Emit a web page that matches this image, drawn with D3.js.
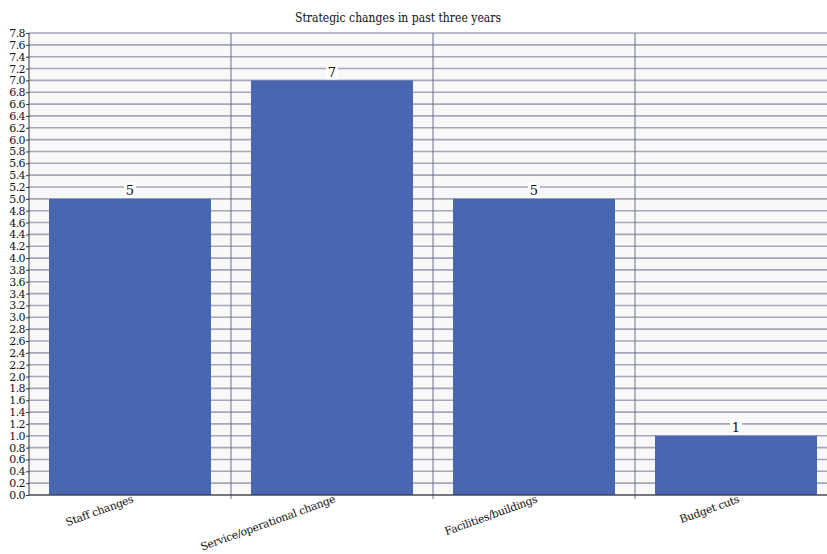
<!DOCTYPE html>
<html><head><meta charset="utf-8">
<script src="https://cdn.jsdelivr.net/npm/d3@7"></script>
<style>body{margin:0;background:#fff}svg{display:block}
svg text{font-family:"DejaVu Serif","Liberation Serif",Times,serif !important}</style>
</head><body><svg id="c" width="827" height="554"></svg>
<script>
const categories = ["Staff changes","Service/operational change","Facilities/buildings","Budget cuts"];
const values = [5,7,5,1];
const yTicks = d3.range(0, 40).map(i => +(i*0.2).toFixed(1));
const title = "Strategic changes in past three years";

const svg = d3.select("#c");
const m = {l:29, t:33, b:59};
const W = 808, H = 554 - m.t - m.b;
const x = d3.scaleBand().domain(categories).range([m.l, m.l + W]).paddingInner(0).paddingOuter(0);
const y = d3.scaleLinear().domain([0, 7.8]).range([m.t + H, m.t]);

svg.append("rect").attr("x", m.l).attr("y", m.t).attr("width", W).attr("height", H).attr("fill", "#f8f8f8");

svg.append("g").selectAll("line").data(yTicks).join("line")
  .attr("x1", m.l).attr("x2", m.l + W)
  .attr("y1", d => y(d)).attr("y2", d => y(d))
  .attr("stroke", "#a3a7b9").attr("stroke-width", 1.6);

svg.append("g").selectAll("line").data(categories.slice(1)).join("line")
  .attr("x1", d => x(d)).attr("x2", d => x(d))
  .attr("y1", m.t).attr("y2", m.t + H + 4)
  .attr("stroke", "#6d7187").attr("stroke-width", 1);

const pad = 20;
svg.append("g").selectAll("rect").data(categories).join("rect")
  .attr("x", d => x(d) + pad).attr("width", x.bandwidth() - 2*pad)
  .attr("y", (d,i) => y(values[i])).attr("height", (d,i) => y(0) - y(values[i]))
  .attr("fill", "#4867b0");

const lab = svg.append("g").selectAll("g").data(categories).join("g")
  .attr("transform", (d,i) => `translate(${x(d) + x.bandwidth()/2},${y(values[i]) - 8})`);
lab.append("rect").attr("x", -6).attr("y", -8).attr("width", 12).attr("height", 15).attr("fill", "#fff");
lab.append("text").attr("text-anchor", "middle").attr("dy", "0.35em").attr("font-size", 13)
  .attr("fill", "#111").text((d,i) => values[i]);

const yAxis = d3.axisLeft(y).tickValues(yTicks).tickFormat(d3.format(".1f")).tickSize(3).tickPadding(1);
const ga = svg.append("g").attr("transform", `translate(${m.l},0)`).call(yAxis);
ga.select(".domain").attr("stroke", "#333").attr("d", `M0,${m.t}V${m.t+H}`);
ga.selectAll(".tick line").attr("stroke", "#333");
ga.selectAll(".tick text").attr("font-size", 11).attr("fill", "#111").attr("letter-spacing", "-0.6");

svg.append("line").attr("x1", m.l).attr("x2", m.l + W).attr("y1", y(0)).attr("y2", y(0))
  .attr("stroke", "#333").attr("stroke-width", 1.2);

svg.append("g").selectAll("text").data(categories).join("text")
  .attr("transform", d => `translate(${x(d) + x.bandwidth()/2 + 4},${y(0) + 7}) rotate(-20)`)
  .attr("text-anchor", "end").attr("font-size", 10.8).attr("fill", "#111").attr("letter-spacing", "-0.3").text(d => d);

svg.append("text").attr("x", 398).attr("y", 22).attr("text-anchor", "middle")
  .attr("font-size", 13.5).attr("fill", "#111")
  .attr("textLength", 206).attr("lengthAdjust", "spacingAndGlyphs").text(title);
</script></body></html>
